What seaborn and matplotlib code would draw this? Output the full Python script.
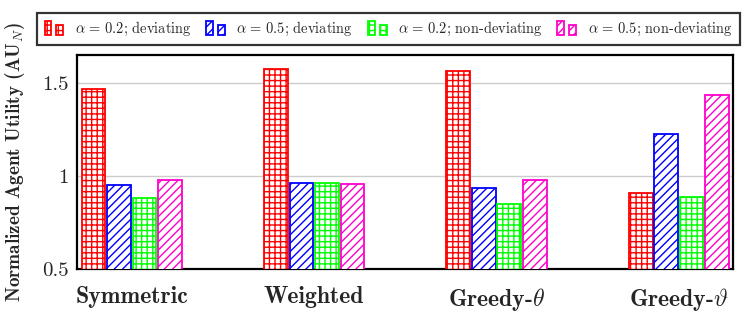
import numpy as np
import pandas as pd
import matplotlib
matplotlib.use("Agg")
import matplotlib.pyplot as plt
import seaborn as sns
from matplotlib.patches import Rectangle
from matplotlib.legend_handler import HandlerBase

# Data
methods = ["Symmetric", "Weighted", "Greedy-θ", "Greedy-ϑ"]
method_labels = [r"Symmetric", r"Weighted", r"Greedy-$\theta$", r"Greedy-$\vartheta$"]
settings = [r"$\alpha\,=\,0.2$; deviating", r"$\alpha\,=\,0.5$; deviating",
            r"$\alpha\,=\,0.2$; non-deviating", r"$\alpha\,=\,0.5$; non-deviating"]
dev_02 = [1.467, 1.576, 1.565, 0.911]
dev_05 = [0.954, 0.965, 0.938, 1.224]
nondev_02 = [0.884, 0.960, 0.851, 0.886]
nondev_05 = [0.981, 0.959, 0.976, 1.435]

colors = ["#ff0000", "#0000ff", "#00ff00", "#ff00cc"]
hatches = ["+++", "////", "+++", "////"]

rows = []
for s, vals in zip(settings, [dev_02, dev_05, nondev_02, nondev_05]):
    for m, v in zip(methods, vals):
        rows.append({"Method": m, "Setting": s, "Utility": v})
df = pd.DataFrame(rows)

sns.set_style("white")
plt.rcParams["font.family"] = ["cmr10", "DejaVu Serif"]
plt.rcParams["mathtext.fontset"] = "cm"
plt.rcParams["axes.formatter.use_mathtext"] = True
plt.rcParams["hatch.linewidth"] = 1.0

fig = plt.figure(figsize=(7.47, 3.26), dpi=100)
ax = fig.add_axes([77 / 747, 57 / 326, 656 / 747, 214 / 326])

sns.barplot(data=df, x="Method", y="Utility", hue="Setting", order=methods,
            hue_order=settings, palette=colors, width=0.56, gap=0.07,
            legend=False, ax=ax, zorder=3)

# white bars with coloured outline + hatch, like the pgfplots original
for cont, col, h in zip(ax.containers, colors, hatches):
    for bar in cont:
        bar.set_facecolor("white")
        bar.set_edgecolor(col)
        bar.set_hatch(h)
        bar.set_linewidth(1.3)

ax.set_ylim(0.5, 1.651)
ax.set_xlim(-0.3, 3.296)
ax.set_yticks([0.5, 1, 1.5])
ax.set_yticklabels(["0.5", "1", "1.5"], fontsize=15)
ax.set_xticks(range(4))
ax.set_xticklabels(method_labels, fontsize=17, fontfamily=["cmb10", "DejaVu Serif"])
ax.tick_params(axis="x", length=0, pad=12)
ax.tick_params(axis="y", length=0, pad=6)
ax.set_xlabel("")
ax.set_ylabel(r"Normalized Agent Utility (AU$_N$)", fontsize=13.8,
              fontfamily=["cmb10", "DejaVu Serif"])
ax.yaxis.set_label_coords(-50 / 656, 0.5)
ax.yaxis.grid(True, color="#cccccc", linewidth=1.0, zorder=0)
for sp in ax.spines.values():
    sp.set_visible(True)
    sp.set_color("black")
    sp.set_linewidth(1.6)


class TwoBarHandler(HandlerBase):
    # legend symbol: two small bars, like the pgfplots ybar legend
    def create_artists(self, legend, orig_handle, xdescent, ydescent,
                       width, height, fontsize, trans):
        w = width * 0.32
        h1 = height * 1.4
        h2 = height * 1.0
        y0 = -ydescent - height * 0.2
        arts = []
        for x0, hh in [(0, h1), (width * 0.55, h2)]:
            r = Rectangle((x0 - xdescent, y0), w, hh, facecolor="white",
                          edgecolor=orig_handle.get_edgecolor(),
                          hatch=orig_handle.get_hatch(), linewidth=1.3,
                          transform=trans)
            arts.append(r)
        return arts


handles = [Rectangle((0, 0), 1, 1, facecolor="white", edgecolor=c, hatch=h)
           for c, h in zip(colors, hatches)]
leg = fig.legend(handles, settings, loc="center", ncol=4,
                 bbox_to_anchor=(388.5 / 747, 1 - 29 / 326),
                 handler_map={Rectangle: TwoBarHandler()},
                 fontsize=10.4, frameon=True, fancybox=False,
                 handlelength=1.5, handletextpad=0.6, columnspacing=1.0,
                 borderpad=0.5)
leg.get_frame().set_edgecolor("black")
leg.get_frame().set_linewidth(1.6)

fig.savefig("out.png", dpi=100)
